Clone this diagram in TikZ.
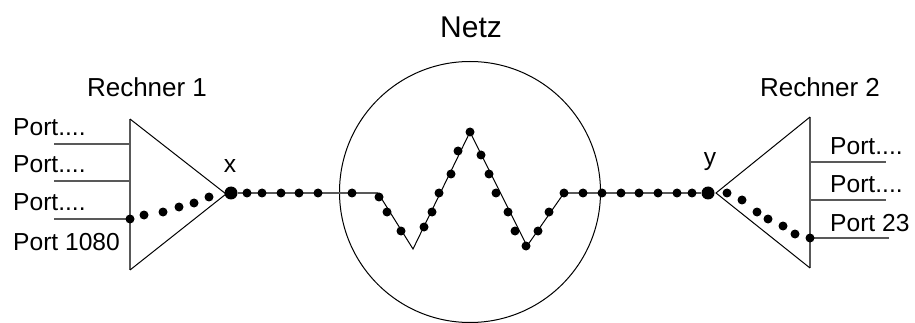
\documentclass[tikz,border=0pt]{standalone}
\usepackage{fontspec}
\setmainfont{Liberation Sans}
\begin{document}
\begin{tikzpicture}[x=1pt,y=-1pt,
  conn/.style={draw=black!65, line width=1.1pt},
  edge/.style={draw=black, line width=1pt},
  dot/.style={circle, fill=black, inner sep=0pt, minimum size=9pt},
  bigdot/.style={circle, fill=black, inner sep=0pt, minimum size=13pt},
  lbl/.style={inner sep=0pt, font=\fontsize{24.6}{28}\selectfont},
  title/.style={inner sep=0pt, font=\fontsize{26}{30}\selectfont},
  ttl/.style={inner sep=0pt, font=\fontsize{30}{34}\selectfont}]
\useasboundingbox (0,0) rectangle (915,323);
\fill[white] (0,0) rectangle (915,323);

% ---- coordinates
\coordinate (L1) at (130,119);
\coordinate (L2) at (130,270);
\coordinate (LA) at (226,194);
\coordinate (R1) at (810,117);
\coordinate (R2) at (810,268);
\coordinate (RA) at (716,193);
\coordinate (Z0) at (378,193);
\coordinate (Z1) at (413,249);
\coordinate (Z2) at (470,132);
\coordinate (Z3) at (527,246);
\coordinate (Z4) at (564,193);
\coordinate (PL1) at (54,144);
\coordinate (PL2) at (54,181);
\coordinate (PL3) at (54,219);
\coordinate (QL1) at (130,144);
\coordinate (QL2) at (130,181);
\coordinate (QL3) at (130,219);
\coordinate (PR1) at (886,162);
\coordinate (PR2) at (886,200);
\coordinate (PR3) at (889,238);
\coordinate (QR1) at (810,162);
\coordinate (QR2) at (810,200);
\coordinate (QR3) at (810,238);

% ---- circle (Netz)
\node[draw=black, line width=1pt, circle, minimum size=261pt, inner sep=0pt] (netz) at (470,192) {};

% ---- triangles
\draw[conn] (L1) -- (L2);
\draw[edge] (L1) -- (LA) -- (L2);
\draw[conn] (R1) -- (R2);
\draw[edge] (R1) -- (RA) -- (R2);

% ---- port lines
\draw[conn] (PL1) -- (QL1);
\draw[conn] (PL2) -- (QL2);
\draw[conn] (PL3) -- (QL3);
\draw[conn] (QR1) -- (PR1);
\draw[conn] (QR2) -- (PR2);
\draw[conn] (QR3) -- (PR3);

% ---- end points
\node[bigdot] (x) at (231,193) {};
\node[bigdot] (y) at (708,193) {};

% ---- route
\draw[conn] (x) -- (Z0);
\draw[edge] (Z0) -- (Z1) -- (Z2) -- (Z3) -- (Z4);
\draw[conn] (Z4) -- (y);

% ---- dots
\foreach \p [count=\i] in {(130,219),(144,215),(163,212),(179,207),(194,203),(209,197)}
  \node[dot] (dl\i) at \p {};
\foreach \p [count=\i] in {(247,193),(262,193),(281,193),(299,193),(318,193),(352,193)}
  \node[dot] (dh\i) at \p {};
\foreach \p [count=\i] in {(379,197),(387,212),(401,231),(424,227),(432,212),(439,193),(451,174),(458,151),(470,132),(481,155),(489,174),(496,193),(508,212),(515,231),(526,246),(538,231),(549,212),(564,193)}
  \node[dot] (dz\i) at \p {};
\foreach \p [count=\i] in {(583,193),(602,193),(621,193),(639,193),(658,193),(677,193),(692,193)}
  \node[dot] (dk\i) at \p {};
\foreach \p [count=\i] in {(727,193),(742,200),(757,212),(768,219),(783,226),(795,234),(810,238)}
  \node[dot] (dr\i) at \p {};

% ---- labels
\node[ttl, anchor=base] (tnetz) at (471,38) {Netz};
\node[title, anchor=base] (tr1) at (147,97) {Rechner 1};
\node[title, anchor=base] (tr2) at (820,97) {Rechner 2};
\node[lbl, anchor=base west] (pl1) at (13,136) {Port....};
\node[lbl, anchor=base west] (pl2) at (13,173) {Port....};
\node[lbl, anchor=base west] (pl3) at (13,211) {Port....};
\node[lbl, anchor=base west] (pl4) at (13,250) {Port 1080};
\node[lbl, anchor=base west] (pr1) at (830,155) {Port....};
\node[lbl, anchor=base west] (pr2) at (830,193) {Port....};
\node[lbl, anchor=base west] (pr3) at (830,231) {Port 23};
\node[lbl, anchor=base] (tx) at (230,173) {x};
\node[lbl, anchor=base] (ty) at (710,166) {y};
\end{tikzpicture}
\end{document}
